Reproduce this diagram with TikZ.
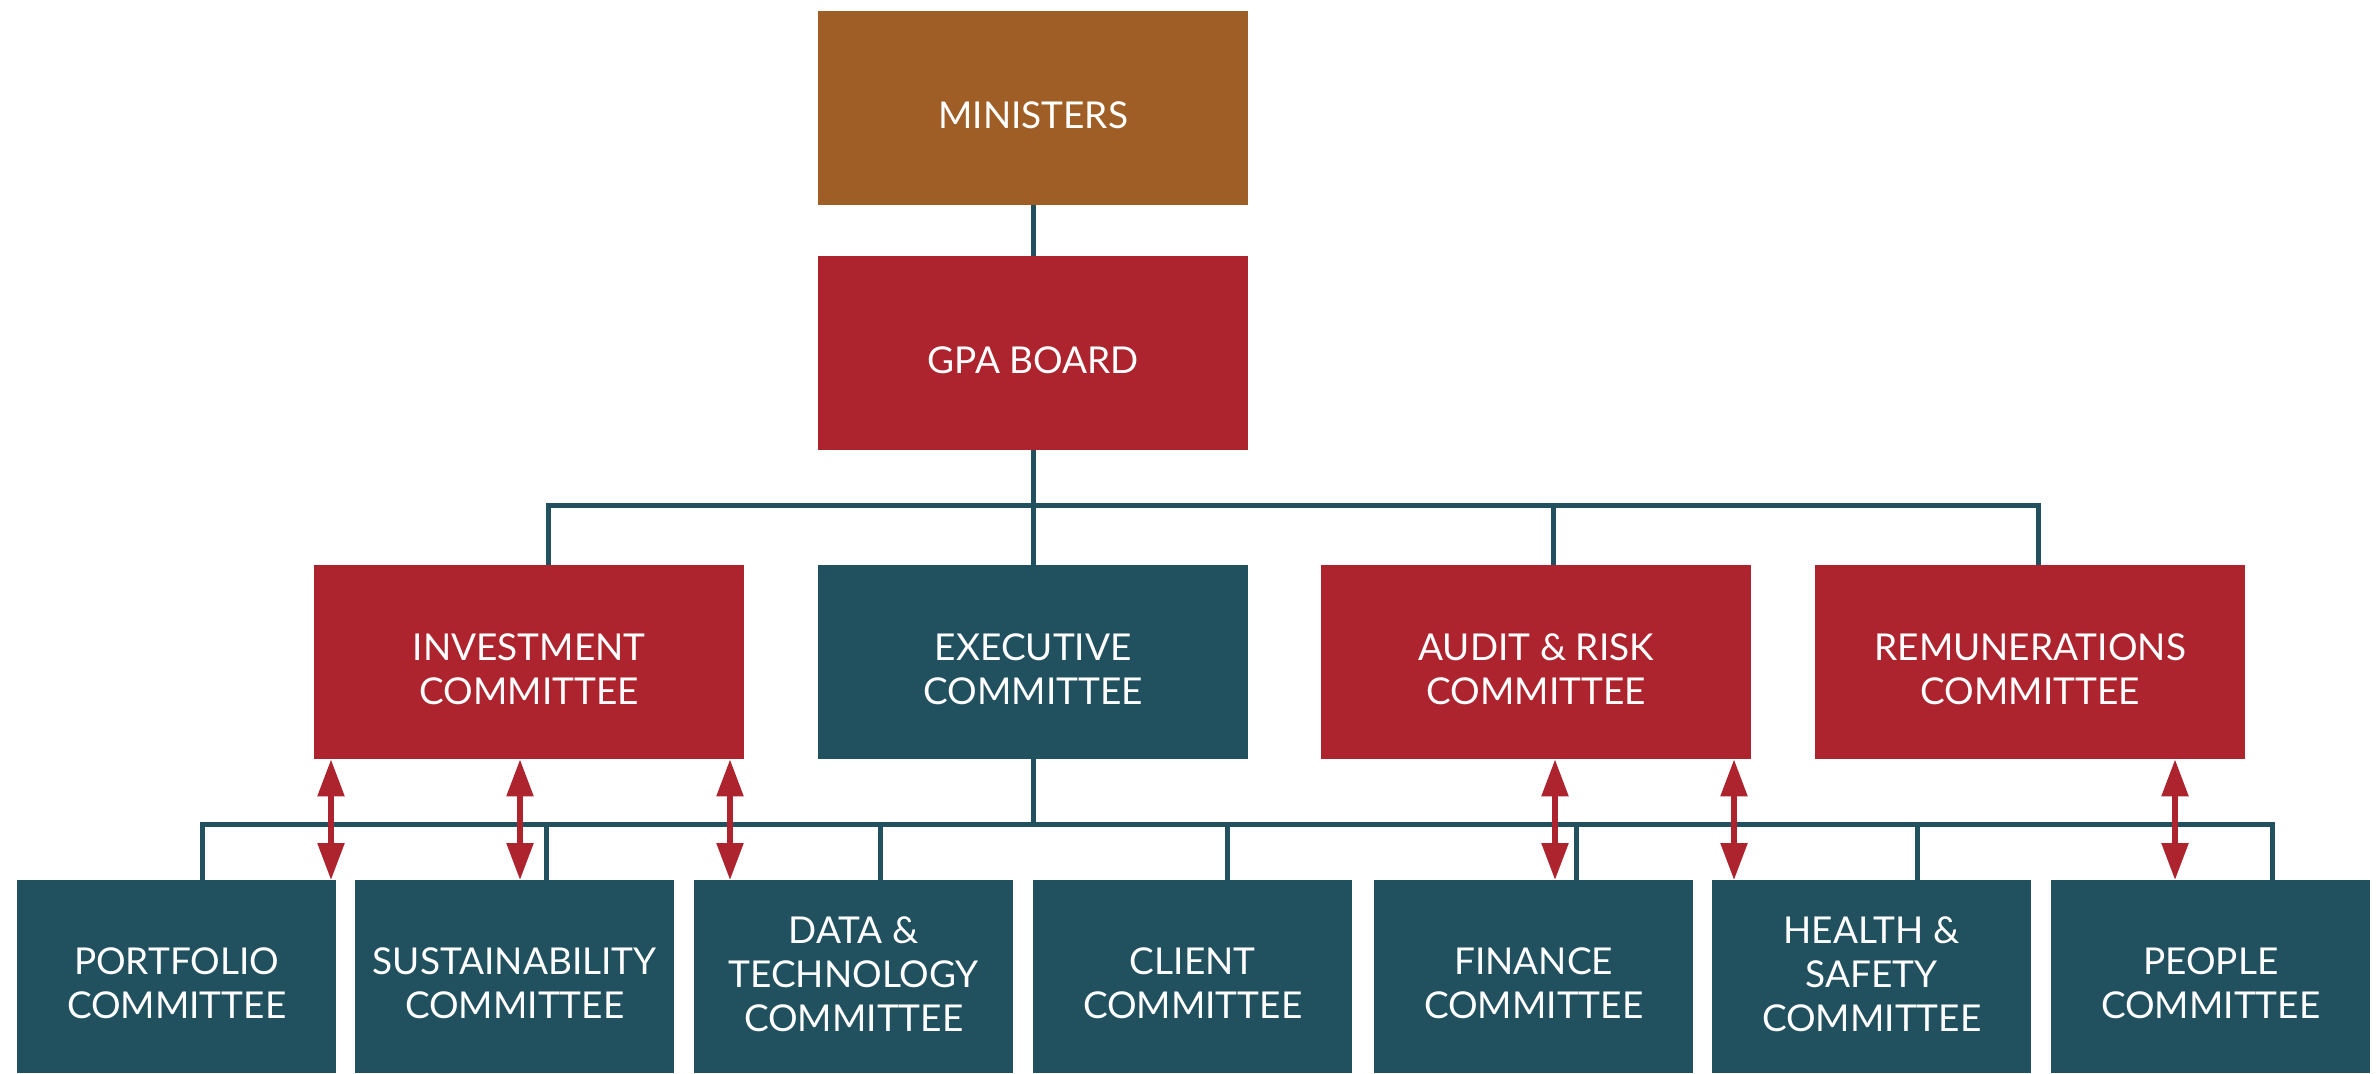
\documentclass[tikz,border=0pt]{standalone}
\usepackage{fontspec}
\setmainfont{Lato}
\usetikzlibrary{arrows.meta}
\definecolor{cbrown}{HTML}{A05E27}
\definecolor{cred}{HTML}{AD242E}
\definecolor{cteal}{HTML}{21505F}
\begin{document}
\begin{tikzpicture}[x=1pt,y=-1pt,
  lbl/.style={text=white, align=center, inner sep=0pt,
    font=\fontsize{37}{44}\selectfont},
  box/.style={anchor=north west, inner sep=0pt,
    label={[lbl, yshift=-7pt]center:#1}},
  boxiii/.style={anchor=north west, inner sep=0pt,
    label={[lbl, yshift=2pt]center:#1}},
  topbox/.style={box=#1, minimum width=430, minimum height=194},
  botbox/.style={box=#1, fill=cteal, minimum width=319, minimum height=193},
  botboxiii/.style={boxiii=#1, fill=cteal, minimum width=319, minimum height=193},
  conn/.style={draw=cteal, line width=5pt, line join=miter},
  rarr/.style={draw=cred, line width=5.5pt,
    {Triangle[width=26pt,length=37pt]}-{Triangle[width=26pt,length=37pt]}}]
\useasboundingbox (0,0) rectangle (2376,1073);
% top
\node[topbox={MINISTERS}, fill=cbrown] (min) at (818,11) {};
\node[topbox={GPA BOARD}, fill=cred] (gpa) at (818,256) {};
% middle
\node[topbox={INVESTMENT\\COMMITTEE}, fill=cred] (inv) at (314,565) {};
\node[topbox={EXECUTIVE\\COMMITTEE}, fill=cteal] (exec) at (818,565) {};
\node[topbox={AUDIT \& RISK\\COMMITTEE}, fill=cred] (aud) at (1321,565) {};
\node[topbox={REMUNERATIONS\\COMMITTEE}, fill=cred] (rem) at (1815,565) {};
% bottom
\node[botbox={PORTFOLIO\\COMMITTEE}] (port) at (17,880) {};
\node[botbox={SUSTAINABILITY\\COMMITTEE}] (sus) at (355,880) {};
\node[botboxiii={DATA \&\\TECHNOLOGY\\COMMITTEE}] (data) at (694,880) {};
\node[botbox={CLIENT\\COMMITTEE}] (cli) at (1033,880) {};
\node[botbox={FINANCE\\COMMITTEE}] (fin) at (1374,880) {};
\node[botboxiii={HEALTH \&\\SAFETY\\COMMITTEE}] (hs) at (1712,880) {};
\node[botbox={PEOPLE\\COMMITTEE}] (ppl) at (2051,880) {};
% top connectors
\draw[conn] (min.south) -- (gpa.north);
\draw[conn] (gpa.south) -- (exec.north);
\coordinate (tl) at (548,505);
\coordinate (tr) at (2038,505);
\coordinate (ta) at (1553,505);
\draw[conn] (inv.north -| tl) -- (tl) -- (tr) -- (rem.north -| tr);
\draw[conn] (ta) -- (aud.north -| ta);
% bottom connectors
\coordinate (bl) at (202,824);
\coordinate (br) at (2272,824);
\draw[conn] (exec.south) -- (exec.south |- bl);
\draw[conn] (port.north -| bl) -- (bl) -- (br) -- (ppl.north -| br);
\foreach \x/\n in {546/sus,880/data,1227/cli,1576/fin,1917/hs}{
  \coordinate (d\n) at (\x,824);
  \draw[conn] (d\n) -- (\n.north -| d\n);
}
% red arrows
\foreach \x/\a/\b in {331/inv/port,520/inv/sus,730/inv/data,1555/aud/fin,1734/aud/hs,2175/rem/ppl}{
  \coordinate (r\b) at (\x,0);
  \draw[rarr] (\a.south -| r\b) -- (\b.north -| r\b);
}
\end{tikzpicture}
\end{document}
